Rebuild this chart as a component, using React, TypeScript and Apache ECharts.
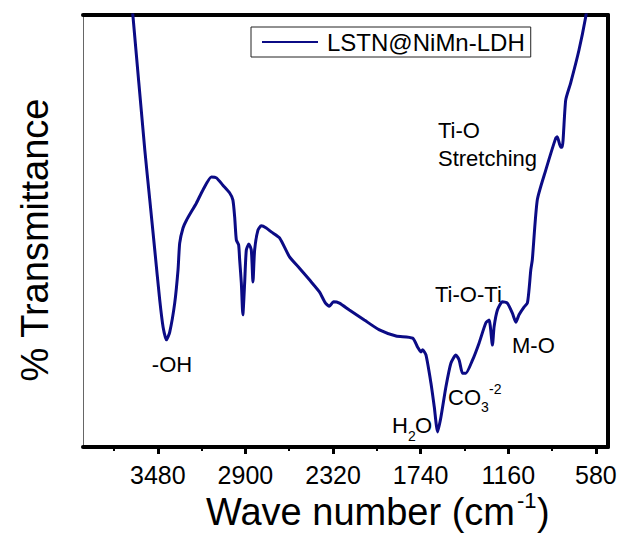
import React, { useEffect, useRef } from "react";
import * as echarts from "echarts";

const seriesName = "LSTN@NiMn-LDH";
const majorTicks = [3480, 2900, 2320, 1740, 1160, 580];
const minorTicks = [3770, 3190, 2610, 2030, 1450, 870];

const wavenumber = [
  3665, 3645, 3566, 3533, 3500, 3467, 3445, 3423, 3401, 3368, 3346, 3335, 3313, 3290,
  3224, 3181, 3125, 3092, 3049, 3004, 2983, 2971, 2960, 2945, 2938, 2927, 2917, 2905,
  2894, 2877, 2861, 2850, 2839, 2817, 2795, 2762, 2729, 2674, 2608, 2542, 2476, 2410,
  2370, 2344, 2317, 2278, 2212, 2113, 2013, 1903, 1793, 1760, 1738, 1727, 1705, 1672,
  1650, 1628, 1606, 1573, 1540, 1507, 1485, 1463, 1441, 1397, 1353, 1309, 1287, 1265,
  1254, 1232, 1199, 1166, 1133, 1110, 1089, 1056, 1034, 1023, 1011, 1001, 968, 912,
  846, 836, 813, 803, 780, 747, 692, 648, 626,
];
const transmittance = [
  108.1, 100, 68.8, 57.2, 45.6, 34.0, 27.8, 24.8, 26.6, 33.3, 41.0, 47.2, 50.7, 52.5,
  56.5, 59.5, 62.5, 62.3, 60.6, 58.8, 57.2, 53.2, 47.9, 46.8, 43.3, 38.0, 30.6, 38.0,
  45.6, 47.0, 45.6, 38.2, 45.6, 50.2, 51.2, 50.7, 49.8, 48.4, 44.0, 41.4, 38.7, 35.9,
  33.3, 32.6, 33.6, 33.3, 31.7, 29.4, 27.1, 25.7, 25.2, 23.1, 22.0, 22.5, 21.3, 14.8,
  9.3, 3.5, 6.9, 13.9, 19.4, 21.3, 20.1, 17.1, 17.1, 20.1, 24.1, 28.7, 29.4, 23.6,
  27.8, 31.7, 33.6, 33.3, 31.0, 28.9, 30.6, 32.4, 33.3, 36.3, 41.0, 43.3, 57.2, 64.1,
  71.5, 71.8, 69.4, 69.4, 80.3, 84.3, 91.9, 99.5, 104.6,
];

const FONT = '"Liberation Sans", Arial, Helvetica, sans-serif';
const LINE_COLOR = "#0b0b85";

function txt(text: string, x: number, y: number, size: number, align = "left", extra: any = {}) {
  return {
    type: "text",
    x,
    y,
    silent: true,
    z: 100,
    ...extra,
    style: {
      text,
      fill: "#000",
      fontSize: size,
      fontFamily: FONT,
      align,
      verticalAlign: "middle",
    },
  };
}

export default function App() {
  const ref = useRef<HTMLDivElement>(null);
  useEffect(() => {
    document.body.style.margin = "0";
    if (!ref.current) return;
    const chart = echarts.init(ref.current, null, { renderer: "svg" });
    const data = wavenumber.map((w, i) => [w, transmittance[i]]);
    const common = { type: "value", min: 500, max: 3975, inverse: true, splitLine: { show: false } };
    chart.setOption({
      animation: false,
      backgroundColor: "#fff",
      grid: { left: 83, right: 12, top: 15, bottom: 86, containLabel: false },
      legend: {
        data: [{ name: seriesName, icon: "rect" }],
        left: 251,
        top: 27,
        itemWidth: 56,
        itemHeight: 2,
        padding: [3, 6, 3, 11],
        borderColor: "#222",
        borderWidth: 1,
        itemStyle: { color: LINE_COLOR },
        textStyle: { fontSize: 24, fontFamily: FONT, color: "#000", padding: [0, 0, 0, 4] },
      },
      xAxis: [
        {
          ...common,
          position: "bottom",
          axisLine: { show: true, lineStyle: { color: "#000", width: 4 } },
          axisTick: { show: true, customValues: majorTicks, length: 7, inside: false, lineStyle: { color: "#000", width: 3 } },
          axisLabel: {
            show: true,
            customValues: majorTicks,
            margin: 15,
            fontSize: 25,
            fontFamily: FONT,
            color: "#000",
            formatter: (v: number) => String(v),
          },
        },
        {
          ...common,
          position: "bottom",
          axisLine: { show: false },
          axisTick: { show: true, customValues: minorTicks, length: 4, inside: false, lineStyle: { color: "#000", width: 2 } },
          axisLabel: { show: false },
        },
        {
          ...common,
          position: "top",
          axisLine: { show: true, lineStyle: { color: "#000", width: 4 } },
          axisTick: { show: false },
          axisLabel: { show: false },
        },
      ],
      yAxis: [
        {
          type: "value",
          min: 0,
          max: 100,
          position: "left",
          splitLine: { show: false },
          axisLine: { show: true, lineStyle: { color: "#666", width: 1 } },
          axisTick: { show: false },
          axisLabel: { show: false },
        },
        {
          type: "value",
          min: 0,
          max: 100,
          position: "right",
          splitLine: { show: false },
          axisLine: { show: true, lineStyle: { color: "#000", width: 4 } },
          axisTick: { show: false },
          axisLabel: { show: false },
        },
      ],
      series: [
        {
          name: seriesName,
          type: "line",
          xAxisIndex: 0,
          yAxisIndex: 0,
          data,
          symbol: "none",
          smooth: 0.2,
          clip: true,
          lineStyle: { color: LINE_COLOR, width: 3 },
          itemStyle: { color: LINE_COLOR },
        },
      ],
      graphic: [
        txt("% Transmittance", 35, 240, 38, "center", { rotation: Math.PI / 2 }),
        txt("Wave number (cm", 206, 512, 38),
        txt("-1", 517, 500, 22),
        txt(")", 537, 512, 38),
        txt("-OH", 172, 364, 22, "center"),
        txt("Ti-O-Ti", 435, 294, 22),
        txt("M-O", 512, 345, 22),
        txt("Ti-O", 438, 130, 22),
        txt("Stretching", 438, 158, 22),
        txt("H", 392, 425, 22),
        txt("2", 408, 436, 14),
        txt("O", 415, 425, 22),
        txt("CO", 448, 397, 22),
        txt("3", 481, 407, 14),
        txt("-2", 489, 389, 14),
      ],
    });
    return () => chart.dispose();
  }, []);
  return <div ref={ref} style={{ width: 620, height: 533 }} />;
}
